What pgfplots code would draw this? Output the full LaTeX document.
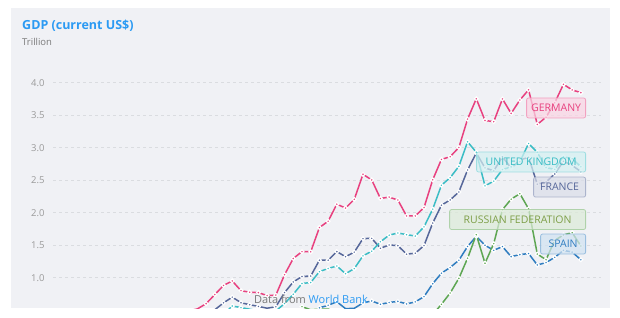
\documentclass[border=0pt]{standalone}
\usepackage{pgfplots}
\pgfplotsset{compat=1.18}
\usepackage{pgfplotstable}
\usepackage{fontspec}
\setmainfont{Open Sans}
\definecolor{bgpanel}{HTML}{F0F1F5}
\definecolor{cde}{HTML}{E8417F}
\definecolor{cuk}{HTML}{3BBDC5}
\definecolor{cfr}{HTML}{56679A}
\definecolor{cru}{HTML}{5EA653}
\definecolor{ces}{HTML}{2F7DC0}
\definecolor{tru}{HTML}{7E9F48}
\definecolor{titleblue}{HTML}{2B9AF3}
\definecolor{gridc}{HTML}{DADCE0}
\definecolor{tickc}{HTML}{9A9A9A}
\definecolor{subc}{HTML}{7A7A7A}

\pgfplotstableread{
year v
1970 0.2158
1971 0.2491
1972 0.2999
1973 0.3986
1974 0.4456
1975 0.4898
1976 0.5197
1977 0.6005
1978 0.7406
1979 0.8815
1980 0.9500
1981 0.8004
1982 0.7765
1983 0.7703
1984 0.7254
1985 0.7323
1986 1.0463
1987 1.2954
1988 1.4016
1989 1.3984
1990 1.7717
1991 1.8689
1992 2.1312
1993 2.0713
1994 2.2059
1995 2.5911
1996 2.5039
1997 2.2186
1998 2.2401
1999 2.1948
2000 1.9499
2001 1.9504
2002 2.0790
2003 2.5057
2004 2.8194
2005 2.8619
2006 3.0023
2007 3.4398
2008 3.7523
2009 3.4188
2010 3.3999
2011 3.7497
2012 3.5278
2013 3.7332
2014 3.8898
2015 3.3576
2016 3.4690
2017 3.6907
2018 3.9748
2019 3.8887
2020 3.8463
}\tde

\pgfplotstableread{
year v
1960 0.0734
1961 0.0774
1962 0.0812
1963 0.0862
1964 0.0945
1965 0.1010
1966 0.1066
1967 0.1117
1968 0.1074
1969 0.1166
1970 0.1309
1971 0.1482
1972 0.1697
1973 0.1926
1974 0.2063
1975 0.2414
1976 0.2326
1977 0.2630
1978 0.3360
1979 0.4381
1980 0.5646
1981 0.5403
1982 0.5153
1983 0.4895
1984 0.4618
1985 0.4893
1986 0.6016
1987 0.7452
1988 0.9108
1989 0.9259
1990 1.0932
1991 1.1424
1992 1.1794
1993 1.0614
1994 1.1401
1995 1.3359
1996 1.4080
1997 1.5528
1998 1.6544
1999 1.6876
2000 1.6625
2001 1.6412
2002 1.7815
2003 2.0555
2004 2.4222
2005 2.5385
2006 2.7131
2007 3.0903
2008 2.9299
2009 2.4129
2010 2.4852
2011 2.6640
2012 2.7047
2013 2.7838
2014 3.0645
2015 2.9280
2016 2.6944
2017 2.6661
2018 2.8609
2019 2.8311
2020 2.7073
}\tuk

\pgfplotstableread{
year v
1960 0.0623
1961 0.0678
1962 0.0758
1963 0.0847
1964 0.0942
1965 0.1016
1966 0.1102
1967 0.1189
1968 0.1298
1969 0.1407
1970 0.1485
1971 0.1656
1972 0.2035
1973 0.2648
1974 0.2865
1975 0.3606
1976 0.3721
1977 0.4105
1978 0.5066
1979 0.6134
1980 0.7011
1981 0.6152
1982 0.5842
1983 0.5582
1984 0.5305
1985 0.5532
1986 0.7712
1987 0.9349
1988 1.0186
1989 1.0258
1990 1.2691
1991 1.2697
1992 1.4014
1993 1.3226
1994 1.3934
1995 1.6012
1996 1.6054
1997 1.4523
1998 1.5036
1999 1.4931
2000 1.3623
2001 1.3768
2002 1.4942
2003 1.8405
2004 2.1157
2005 2.1963
2006 2.3186
2007 2.6571
2008 2.9182
2009 2.6902
2010 2.6426
2011 2.8614
2012 2.6836
2013 2.8111
2014 2.8521
2015 2.4387
2016 2.4713
2017 2.5955
2018 2.7900
2019 2.7289
2020 2.6303
}\tfr

\pgfplotstableread{
year v
1988 0.5547
1989 0.5066
1990 0.5168
1991 0.5179
1992 0.4602
1993 0.4350
1994 0.3951
1995 0.3955
1996 0.3918
1997 0.4049
1998 0.2710
1999 0.1959
2000 0.2597
2001 0.3066
2002 0.3451
2003 0.4303
2004 0.5910
2005 0.7640
2006 0.9899
2007 1.2997
2008 1.6609
2009 1.2226
2010 1.5248
2011 2.0459
2012 2.2083
2013 2.2925
2014 2.0592
2015 1.3634
2016 1.2768
2017 1.5742
2018 1.6574
2019 1.6930
2020 1.4887
}\tru

\pgfplotstableread{
year v
1960 0.0121
1961 0.0138
1962 0.0160
1963 0.0191
1964 0.0216
1965 0.0249
1966 0.0289
1967 0.0316
1968 0.0310
1969 0.0352
1970 0.0400
1971 0.0452
1972 0.0552
1973 0.0729
1974 0.0888
1975 0.1060
1976 0.1071
1977 0.1159
1978 0.1421
1979 0.1948
1980 0.2325
1981 0.2026
1982 0.1951
1983 0.1725
1984 0.1745
1985 0.1829
1986 0.2509
1987 0.3159
1988 0.3754
1989 0.4148
1990 0.5359
1991 0.5757
1992 0.6297
1993 0.5237
1994 0.5293
1995 0.6121
1996 0.6426
1997 0.5903
1998 0.6191
1999 0.6355
2000 0.5970
2001 0.6276
2002 0.7085
2003 0.9070
2004 1.0696
2005 1.1573
2006 1.2681
2007 1.4806
2008 1.6358
2009 1.4993
2010 1.4207
2011 1.4788
2012 1.3240
2013 1.3553
2014 1.3717
2015 1.1955
2016 1.2328
2017 1.3122
2018 1.4211
2019 1.3936
2020 1.2767
}\tes

\begin{document}
\begin{tikzpicture}[x=1pt,y=1pt]
\fill[white] (0,0) rectangle (620,317);
\fill[bgpanel] (11,9) rectangle (610,309);
\node[anchor=base west, font=\bfseries\fontsize{12.5}{14}\selectfont, text=titleblue, inner sep=0] at (22,288) {GDP (current US\$)};
\node[anchor=base west, font=\fontsize{9.5}{11}\selectfont, text=subc, inner sep=0] at (22,272) {Trillion};
\begin{axis}[
  scale only axis, width=548pt, height=238pt,
  at={(53pt,9pt)}, anchor=south west,
  xmin=1959.43, xmax=2022.31, ymin=0.5338, ymax=4.195,
  axis line style={draw=none}, tick style={draw=none},
  xtick=\empty, ytick={1,1.5,2,2.5,3,3.5,4},
  ymajorgrids, grid style={gridc, line width=0.6pt, dash pattern=on 3pt off 3pt},
  yticklabel style={font=\fontsize{9.5}{11}\selectfont, text=tickc, xshift=-5pt},
  /pgf/number format/.cd, fixed, fixed zerofill, precision=1, assume math mode=true,
]
\pgfplotsset{every axis plot/.append style={line width=1.5pt, mark=*, mark size=1.9pt}}
\addplot[ces, mark options={draw=white, line width=1.2pt, fill=ces}] table[x=year,y=v] {\tes};
\addplot[cru, mark options={draw=white, line width=1.2pt, fill=cru}] table[x=year,y=v] {\tru};
\addplot[cfr, mark options={draw=white, line width=1.2pt, fill=cfr}] table[x=year,y=v] {\tfr};
\addplot[cuk, mark options={draw=white, line width=1.2pt, fill=cuk}] table[x=year,y=v] {\tuk};
\addplot[cde, mark options={draw=white, line width=1.2pt, fill=cde}] table[x=year,y=v] {\tde};
\coordinate (pde) at (axis cs:2020.59,3.611);
\coordinate (puk) at (axis cs:2020.59,2.78);
\coordinate (pfr) at (axis cs:2020.59,2.394);
\coordinate (pru) at (axis cs:2020.59,1.895);
\coordinate (pes) at (axis cs:2020.59,1.518);
\end{axis}
\tikzset{
  lblbox/.style={anchor=east, fill=#1!22!white, fill opacity=0.72, draw=#1!55!white, draw opacity=0.85, line width=0.8pt, rounded corners=2pt, minimum height=20pt, inner sep=0pt},
  lbltxt/.style={text=#1, font=\fontsize{10.5}{12}\selectfont, inner sep=0pt}
}
\node[lblbox=cde, minimum width=59pt] (lde) at (pde) {};
\node[lbltxt=cde] at (lde.center) {GERMANY};
\node[lblbox=cuk, minimum width=109pt] (luk) at (puk) {};
\node[lbltxt=cuk] at (luk.center) {UNITED KINGDOM};
\node[lblbox=cfr, minimum width=52pt] (lfr) at (pfr) {};
\node[lbltxt=cfr] at (lfr.center) {FRANCE};
\node[lblbox=cru, minimum width=136pt] (lru) at (pru) {};
\node[lbltxt=tru] at (lru.center) {RUSSIAN FEDERATION};
\node[lblbox=ces, minimum width=45pt] (les) at (pes) {};
\node[lbltxt=ces] at (les.center) {SPAIN};
\node[font=\fontsize{11}{13}\selectfont, inner sep=0] at (311,18) {\textcolor{subc}{Data from} \textcolor{titleblue}{World Bank}};
\pgfresetboundingbox
\path[use as bounding box] (0,0) rectangle (620,317);
\end{tikzpicture}
\end{document}
